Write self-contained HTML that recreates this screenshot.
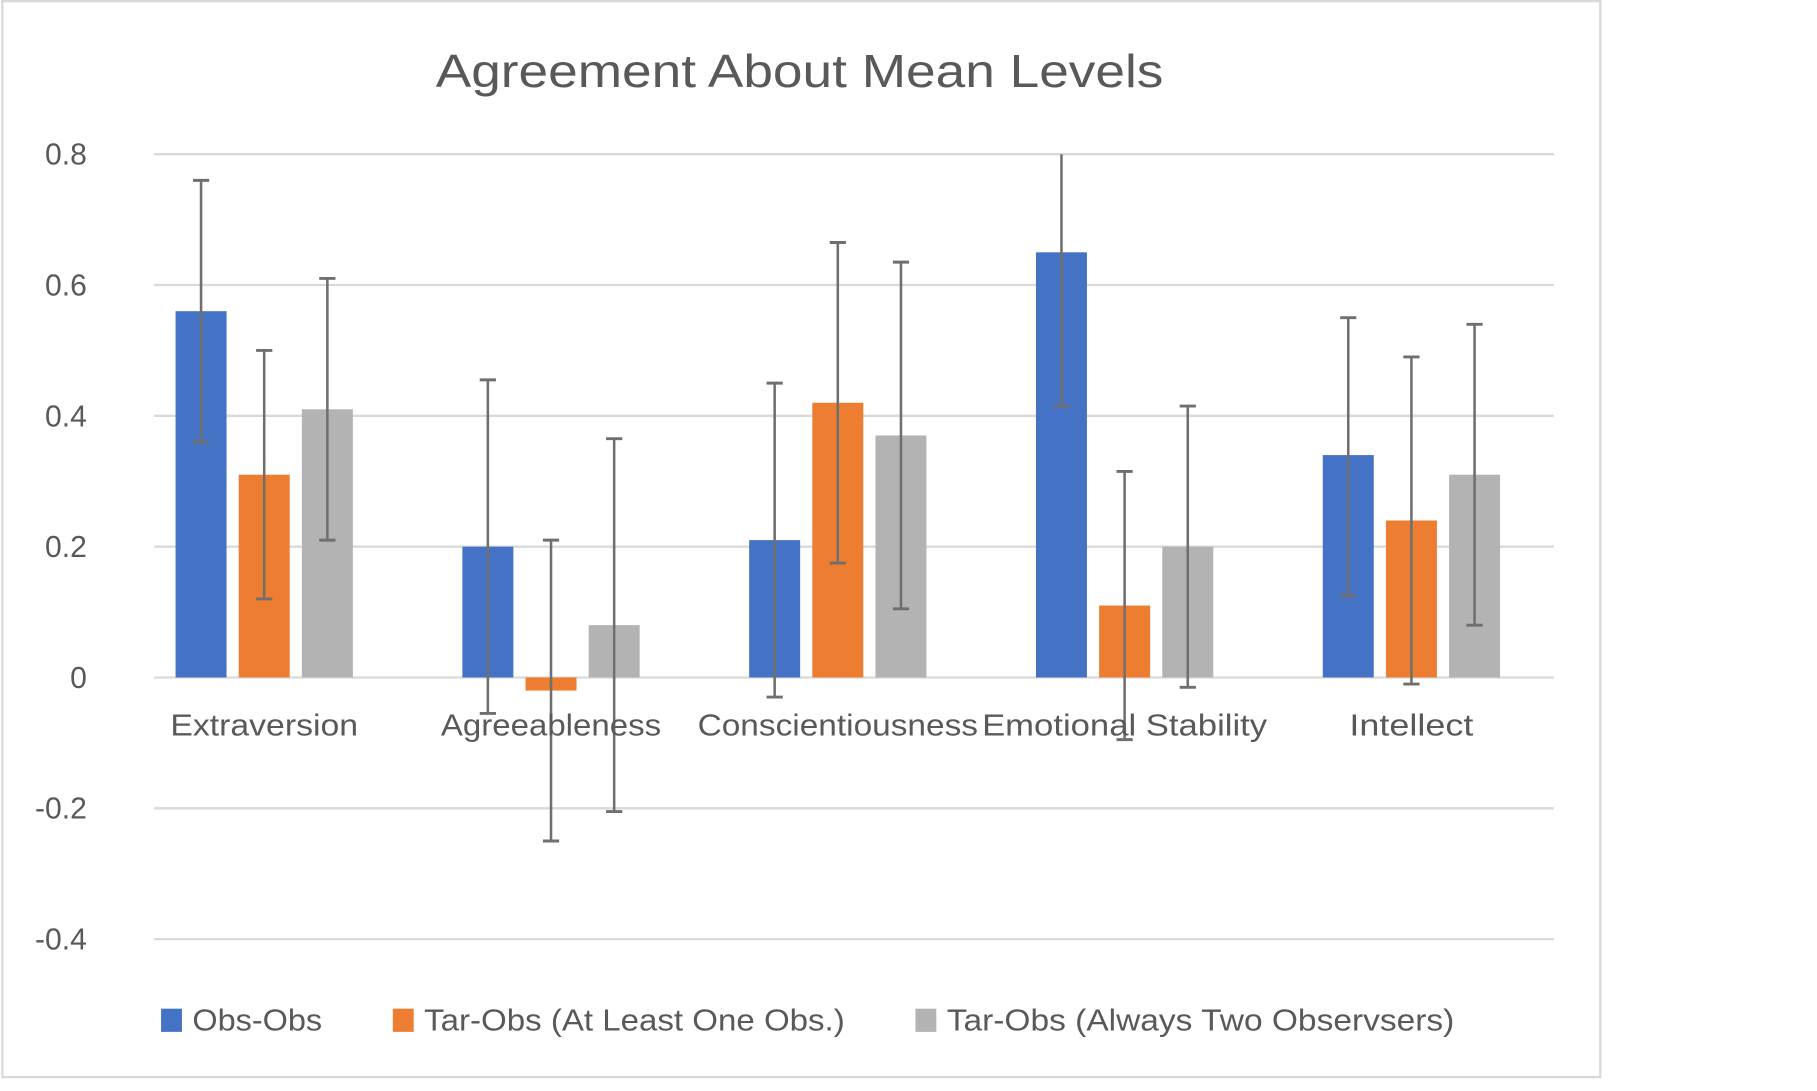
<!DOCTYPE html>
<html><head><meta charset="utf-8"><style>
html,body{margin:0;padding:0;background:#fff;}
svg{display:block;}
text{font-family:"Liberation Sans",sans-serif;fill:#595959;}
</style></head><body>
<svg id="chart" width="1817" height="1091" viewBox="0 0 1568 941" preserveAspectRatio="none" xmlns="http://www.w3.org/2000/svg">
<rect x="2" y="1" width="1379" height="928" fill="#fff" stroke="#d9d9d9" stroke-width="2"/>
<text x="690" y="75" font-size="40" text-anchor="middle" textLength="628" lengthAdjust="spacingAndGlyphs">Agreement About Mean Levels</text>
<g id="grid"></g><g id="bars"></g><g id="errs"></g><g id="labels"></g><g id="legend"></g>
</svg>
<script>
const categories=["Extraversion","Agreeableness","Conscientiousness","Emotional Stability","Intellect"];
const seriesNames=["Obs-Obs","Tar-Obs (At Least One Obs.)","Tar-Obs (Always Two Observsers)"];
const obsObs=[0.56,0.20,0.21,0.65,0.34];
const tarObsOne=[0.31,-0.02,0.42,0.11,0.24];
const tarObsTwo=[0.41,0.08,0.37,0.20,0.31];
const obsObsLow=[0.36,-0.055,-0.03,0.415,0.125];
const obsObsHigh=[0.76,0.455,0.45,0.885,0.55];
const tarOneLow=[0.12,-0.25,0.175,-0.095,-0.01];
const tarOneHigh=[0.50,0.21,0.665,0.315,0.49];
const tarTwoLow=[0.21,-0.205,0.105,-0.015,0.08];
const tarTwoHigh=[0.61,0.365,0.635,0.415,0.54];
const yTicks=[0.8,0.6,0.4,0.2,0,-0.2,-0.4];
const yTickLabels=["0.8","0.6","0.4","0.2","0","-0.2","-0.4"];
const colors=["#4472c4","#ed7d31","#b3b3b3"];
const NS="http://www.w3.org/2000/svg";
const x0=133,x1=1341,yTop=133,yMin=-0.4,yMax=0.8,yBot=810;
function y(v){return yBot-(v-yMin)/(yMax-yMin)*(yBot-yTop);}
const gw=247.5,c0=228,bw=44,gap=10.5;
function gc(i){return c0+gw*i;}
function bx(i,s){return gc(i)-bw*1.5-gap+s*(bw+gap);}
function mk(tag,attrs,parent){const e=document.createElementNS(NS,tag);for(const k in attrs)e.setAttribute(k,attrs[k]);document.getElementById(parent).appendChild(e);return e;}
yTicks.forEach((t,i)=>{
  const l=mk('line',{x1:x0,x2:x1,y1:y(t),y2:y(t),stroke:'#d9d9d9','stroke-width':2},'grid');
  
  
  const tx=mk('text',{x:75,y:y(t)+9,'font-size':26,'text-anchor':'end'},'labels');
  tx.textContent=yTickLabels[i];
  
  
});
const vals=[obsObs,tarObsOne,tarObsTwo],lows=[obsObsLow,tarOneLow,tarTwoLow],highs=[obsObsHigh,tarOneHigh,tarTwoHigh];
categories.forEach((c,i)=>{
  vals.forEach((arr,s)=>{
    const v=arr[i],top=Math.min(y(v),y(0)),h=Math.abs(y(v)-y(0));
    const r=mk('rect',{x:bx(i,s),y:top,width:bw,height:h,fill:colors[s]},'bars');
    
    
    const cx=bx(i,s)+bw/2,lo=y(lows[s][i]),hiRaw=highs[s][i],hi=y(Math.min(hiRaw,yMax));
    const e=mk('line',{x1:cx,x2:cx,y1:lo,y2:hi,stroke:'#6f6f6f','stroke-width':2.2},'errs');
    
    
    mk('line',{x1:cx-7,x2:cx+7,y1:lo,y2:lo,stroke:'#6f6f6f','stroke-width':2.5},'errs');
    if(hiRaw<=yMax) mk('line',{x1:cx-7,x2:cx+7,y1:hi,y2:hi,stroke:'#6f6f6f','stroke-width':2.5},'errs');
  });
  const t=mk('text',{x:gc(i),y:y(0)+50,'font-size':26,'text-anchor':'middle'},'labels');
  t.textContent=c;
  
  
  const lens={"Extraversion":162,"Agreeableness":190,"Conscientiousness":242,"Emotional Stability":246,"Intellect":107};
  t.setAttribute('textLength',lens[c]);
  t.setAttribute('lengthAdjust','spacingAndGlyphs');
});
const legX=[139,339,790],legW=[139,390,465];
seriesNames.forEach((n,s)=>{
  const r=mk('rect',{x:legX[s],y:870,width:18,height:20,fill:colors[s]},'legend');
  
  
  const t=mk('text',{x:legX[s]+27,y:889,'font-size':26,textLength:legW[s]-27,lengthAdjust:'spacingAndGlyphs'},'legend');
  t.textContent=n;
  
  
});
</script>
</body></html>
